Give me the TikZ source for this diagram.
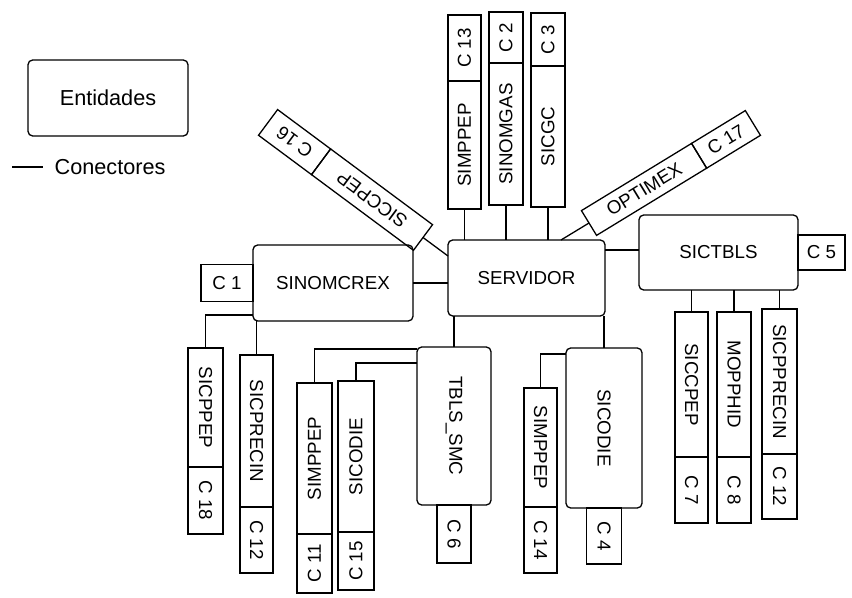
\documentclass[tikz,border=0pt]{standalone}
\usepackage{fontspec}
\setmainfont{Liberation Sans}
\usetikzlibrary{positioning}
\newcommand\pxu{0.03cm}
\newcommand\rotdown[1]{\rotatebox{-90}{#1}}
\newcommand\rotup[1]{\rotatebox{90}{#1}}
\tikzset{
  wh/.style 2 args={minimum width=#1*\pxu, minimum height=#2*\pxu},
  ent/.style={draw, rounded corners=4pt, inner sep=0pt, outer sep=0pt},
  tab/.style={draw, inner sep=0pt, outer sep=0pt},
  legendfont/.style={font=\fontsize{18.5}{22}\selectfont},
}

\begin{document}
\begin{tikzpicture}[x=\pxu, y=-\pxu, line width=1.1pt,
    every node/.style={font=\fontsize{16}{19}\selectfont}]
  \useasboundingbox (0,0) rectangle (852,598);

  % legend
  \node[ent, wh={160}{76}, legendfont] (legend) at (108,98) {Entidades};
  \coordinate (lgA) at (12,167);
  \coordinate (lgB) at (43,167);
  \node[anchor=west, inner sep=0pt, legendfont] (lgtext) at (54,167) {Conectores};
  \draw (lgA) -- (lgB);

  % entities
  \node[ent, wh={157}{76}] (servidor)  at (526.5,278) {SERVIDOR};
  \node[ent, wh={160}{76}] (sinomcrex) at (333,283)   {SINOMCREX};
  \node[ent, wh={159}{75}] (sictbls)   at (718.5,252.5) {SICTBLS};
  \node[ent, wh={74}{158}] (tblssmc)   at (454,426)   {\rotdown{TBLS\_SMC}};
  \node[ent, wh={76}{160}] (sicodie)   at (604,428)   {\rotdown{SICODIE}};

  \node[tab, wh={52}{37}, left=0pt of sinomcrex] (c1) {C 1};
  \node[tab, wh={47}{35}, right=0pt of sictbls]  (c5) {C 5};
  \node[tab, wh={34}{58}, below=0pt of tblssmc]  (c6) {\rotdown{C 6}};
  \node[tab, wh={35}{56}, below=0pt of sicodie]  (c4) {\rotdown{C 4}};

  % top
  \node[tab, wh={33}{128}] (simppepT) at (464.5,145) {\rotup{SIMPPEP}};
  \node[tab, wh={33}{66}, above=0pt of simppepT] (c13) {\rotup{C 13}};
  \node[tab, wh={34}{142}] (sinomgas) at (506,134) {\rotup{SINOMGAS}};
  \node[tab, wh={34}{51}, above=0pt of sinomgas] (c2) {\rotup{C 2}};
  \node[tab, wh={34}{141}] (sicgc) at (548,136.5) {\rotup{SICGC}};
  \node[tab, wh={34}{53}, above=0pt of sicgc] (c3) {\rotup{C 3}};

  % bottom left
  \node[tab, wh={35}{119}] (sicppepL) at (205.5,407.5) {\rotdown{SICPPEP}};
  \node[tab, wh={35}{67}, below=0pt of sicppepL] (c18) {\rotdown{C 18}};
  \node[tab, wh={33}{152}] (sicprecinL) at (256.5,431) {\rotdown{SICPRECIN}};
  \node[tab, wh={33}{66}, below=0pt of sicprecinL] (c12a) {\rotdown{C 12}};
  \node[tab, wh={35}{151}] (simppepB) at (314.5,458.5) {\rotup{SIMPPEP}};
  \node[tab, wh={35}{59}, below=0pt of simppepB] (c11) {\rotup{C 11}};
  \node[tab, wh={36}{151}] (sicodieB) at (356,456.5) {\rotup{SICODIE}};
  \node[tab, wh={36}{58}, below=0pt of sicodieB] (c15) {\rotup{C 15}};
  \node[tab, wh={33}{119}] (simppepC) at (540.5,447.5) {\rotdown{SIMPPEP}};
  \node[tab, wh={33}{66}, below=0pt of simppepC] (c14) {\rotdown{C 14}};

  % bottom right
  \node[tab, wh={33}{145}] (siccpep) at (691.5,384.5) {\rotdown{SICCPEP}};
  \node[tab, wh={33}{66}, below=0pt of siccpep] (c7) {\rotdown{C 7}};
  \node[tab, wh={34}{145}] (mopphid) at (734,384.5) {\rotdown{MOPPHID}};
  \node[tab, wh={34}{66}, below=0pt of mopphid] (c8) {\rotdown{C 8}};
  \node[tab, wh={35}{145}] (sicpprecin) at (779.5,381.5) {\rotdown{SICPPRECIN}};
  \node[tab, wh={35}{65}, below=0pt of sicpprecin] (c12b) {\rotdown{C 12}};

  % tilted
  \node[tab, wh={127}{32}, rotate=143.4, anchor=west] (siccpepD) at (423,237.5) {SICCPEP};
  \node[tab, wh={66}{32}, rotate=143.4, anchor=west] (c16) at (siccpepD.east) {C 16};
  \node[tab, wh={129}{29}, rotate=31.4, anchor=west] (optimex) at (589,223) {OPTIMEX};
  \node[tab, wh={63}{29}, rotate=31.4, anchor=west] (c17) at (optimex.east) {C 17};

  % connectors
  \draw (sinomcrex.east) -- (sinomcrex.east -| servidor.west);
  \draw (servidor.east |- 0,250) -- (sictbls.west |- 0,250);
  \draw (simppepT.south) -- (simppepT.south |- servidor.north);
  \draw (sinomgas.south) -- (sinomgas.south |- servidor.north);
  \draw (sicgc.south) -- (sicgc.south |- servidor.north);
  \draw (tblssmc.north) -- (tblssmc.north |- servidor.south);
  \draw (sicodie.north) -- (sicodie.north |- servidor.south);
  \draw (siccpep.north) -- (siccpep.north |- sictbls.south);
  \draw (mopphid.north) -- (mopphid.north |- sictbls.south);
  \draw (sicpprecin.north) -- (sicpprecin.north |- sictbls.south);
  \draw (sicppepL.north) |- (sinomcrex.west |- 0,315);
  \draw (sicprecinL.north) -- (sicprecinL.north |- sinomcrex.south);
  \draw (simppepB.north) |- (tblssmc.west |- 0,349);
  \draw (sicodieB.north) |- (tblssmc.west |- 0,363);
  \draw (simppepC.north) |- (sicodie.west |- 0,354);
  \draw (siccpepD.west) -- (servidor.west |- 0,256);
  \draw (optimex.west) -- (servidor.north -| 561,0);
\end{tikzpicture}
\end{document}
